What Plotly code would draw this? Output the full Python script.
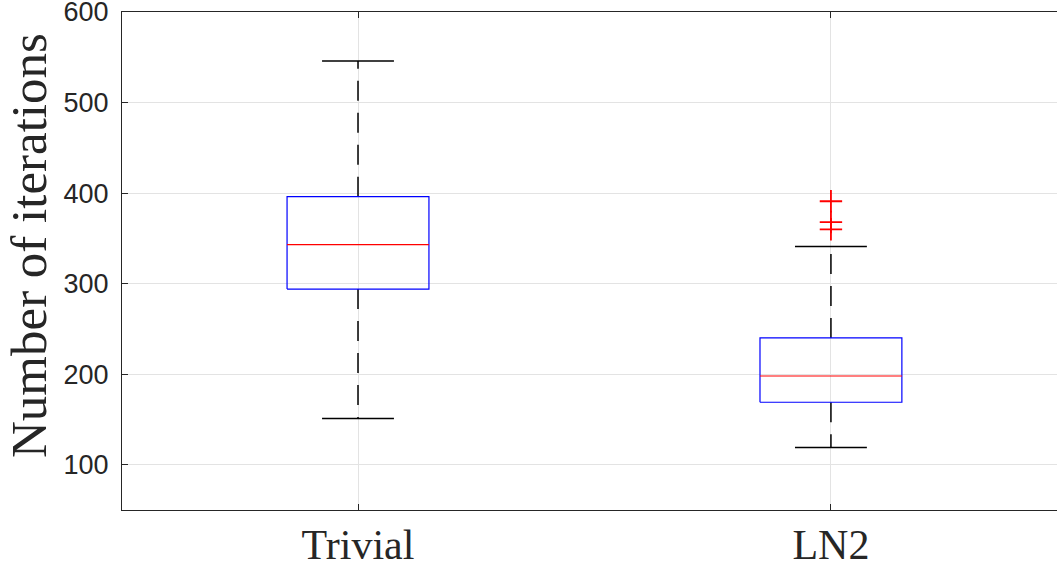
import plotly.graph_objects as go

categories = ["Trivial", "LN2"]
q1 = [294, 169]
median = [343, 198]
q3 = [396, 240]
lower_whisker = [151, 119]
upper_whisker = [546, 341]
outliers = [[], [391, 368, 360]]

BOX_HW = 0.15
CAP_HW = 0.076
AX = "#262626"
PLOT_W = 935
PLOT_H = 498

fig = go.Figure()
for i, cat in enumerate(categories):
    x = i + 1
    # whiskers (dashed) from box edges outward
    fig.add_trace(go.Scatter(
        x=[x, x, None, x, x],
        y=[q3[i], upper_whisker[i], None, q1[i], lower_whisker[i]],
        mode="lines", line=dict(color="#000000", width=1.5, dash="20px,12px"),
        hoverinfo="skip", showlegend=False))
    # caps
    fig.add_trace(go.Scatter(
        x=[x - CAP_HW, x + CAP_HW, None, x - CAP_HW, x + CAP_HW],
        y=[upper_whisker[i], upper_whisker[i], None, lower_whisker[i], lower_whisker[i]],
        mode="lines", line=dict(color="#000000", width=1.5),
        hoverinfo="skip", showlegend=False))
    # box
    fig.add_trace(go.Scatter(
        x=[x - BOX_HW, x + BOX_HW, x + BOX_HW, x - BOX_HW, x - BOX_HW],
        y=[q1[i], q1[i], q3[i], q3[i], q1[i]],
        mode="lines", line=dict(color="#0000FF", width=1.2),
        hoverinfo="skip", showlegend=False))
    # median
    fig.add_trace(go.Scatter(
        x=[x - BOX_HW, x + BOX_HW], y=[median[i], median[i]],
        mode="lines", line=dict(color="#FF0000", width=1.2),
        hoverinfo="skip", showlegend=False))
    if outliers[i]:
        fig.add_trace(go.Scatter(
            x=[x] * len(outliers[i]), y=outliers[i], mode="markers",
            marker=dict(symbol="cross-thin", size=16,
                        line=dict(color="#FF0000", width=1.8)),
            hoverinfo="skip", showlegend=False))

fig.add_annotation(
    text="Number of iterations", textangle=-90,
    xref="paper", yref="paper",
    x=(29 - 122) / PLOT_W, y=(510 - 246) / PLOT_H,
    xanchor="center", yanchor="middle", showarrow=False,
    font=dict(family="Liberation Serif", size=51, color=AX),
)

fig.update_layout(
    width=1058, height=572,
    margin=dict(l=122, r=1, t=12, b=62),
    paper_bgcolor="white", plot_bgcolor="white",
    xaxis=dict(
        range=[0.501, 2.478], tickvals=[1, 2], ticktext=categories,
        showgrid=True, gridcolor="#e3e3e3", gridwidth=1,
        zeroline=False, showline=True, linecolor=AX, linewidth=1,
        mirror="ticks", ticks="inside", ticklen=6, tickcolor=AX,
        automargin=False, ticklabelstandoff=-2,
        tickfont=dict(family="Liberation Serif", size=42, color=AX),
    ),
    yaxis=dict(
        range=[50, 600], tickvals=[100, 200, 300, 400, 500, 600],
        showgrid=True, gridcolor="#e3e3e3", gridwidth=1,
        zeroline=False, showline=True, linecolor=AX, linewidth=1,
        ticks="inside", ticklen=6, tickcolor=AX,
        ticklabeloverflow="allow", ticklabelstandoff=7,
        automargin=False,
        tickfont=dict(family="Liberation Sans", size=27, color=AX),
    ),
)

fig.write_html("out.html")
